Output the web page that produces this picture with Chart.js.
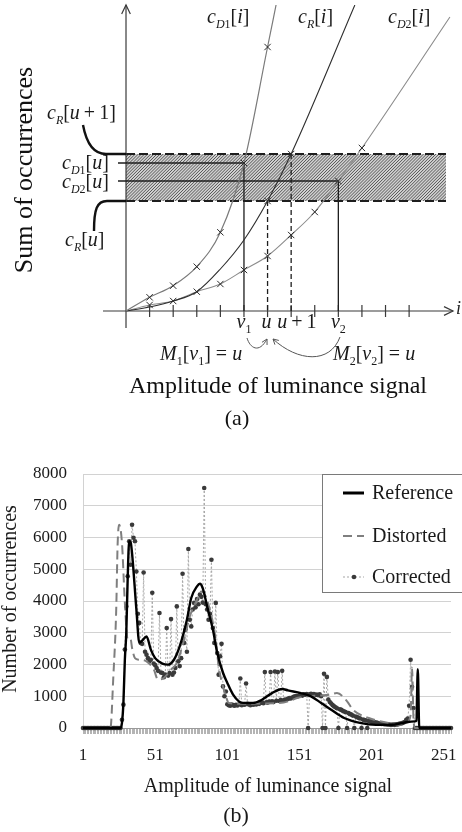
<!DOCTYPE html>
<html><head><meta charset="utf-8">
<script src="https://cdn.jsdelivr.net/npm/chart.js@4.4.1/dist/chart.umd.min.js"></script>
<style>
html,body{margin:0;padding:0;background:#fff;width:462px;height:832px;overflow:hidden}
canvas{position:absolute;left:0}
#ca{top:0}
#cb{top:430px}
</style></head><body>
<canvas id="ca" width="462" height="430"></canvas>
<canvas id="cb" width="462" height="402"></canvas>
<script>
// ===== (a) schematic: cumulative histograms =====
const cD1X = [0, 1, 2, 3, 4, 5, 6, 6.36];
const cD1Y = [0, 1.37, 2.53, 4.43, 7.87, 14.8, 26.4, 30.6];
const cD1Mark = [0, 1, 1, 1, 1, 1, 1, 0];
const cRX = [0, 1, 2, 3, 4, 5, 6, 7, 9.7];
const cRY = [0, 0.4, 1.0, 1.93, 4.2, 7.1, 11.0, 15.7, 30.6];
const cRMark = [0, 0, 0, 0, 0, 0, 1, 1, 0];
const cD2X = [0, 1, 2, 3, 4, 5, 6, 7, 8, 9, 10, 13.73];
const cD2Y = [0, 0.6, 1.0, 1.93, 2.7, 4.1, 5.5, 7.6, 9.9, 13.0, 16.3, 29.4];
const cD2Mark = [0, 1, 1, 1, 1, 1, 1, 1, 1, 1, 1, 0];
const axisTicksA = [1, 2, 3, 4, 5, 6, 7, 8, 9, 10, 11, 12];
const posV1 = 5, posU = 6, posU1 = 7, posV2 = 9;

// ===== (b) histograms =====
const xTickLabels = [1, 51, 101, 151, 201, 251];
const refX = [1,27,28,29,30,31,32,33,34,35,38,40,42,45,48,51,56,60,64,68,73,76,80,82,84,87,91,94,98,101,105,109,112,119,125,132,139,143,152,159,166,173,182,193,204,215,224,231,232,233,234,256];
const refY = [0,0,160,790,2150,3000,4780,5880,5850,5500,3730,2690,2750,2880,2470,2200,2025,1995,2150,2570,3410,4095,4460,4545,4400,3830,3100,2370,1740,1420,1050,840,790,790,890,1100,1230,1185,1100,995,790,575,315,160,100,100,175,210,230,1850,0,0];
const disX = [1,20,22,24,25,26,28,30,32,34,35,37,40,45,50,53,57,62,66,71,75,80,83,86,90,93,95,98,100,102,110,125,140,145,150,157,165,172,177,184,188,199,211,220,225,228,229,230,231,256];
const disY = [0,0,1600,3700,5800,6400,5830,3950,2780,2790,2520,2200,2150,2100,1850,1520,1575,1840,2050,2780,3515,4040,4300,4150,3515,2780,1940,1310,1000,790,760,770,800,870,950,1000,1020,1050,1100,840,575,315,175,100,160,400,1900,300,0,0];
const corrected = [
0,0,0,0,0,0,0,0,0,0,
0,0,0,0,0,0,0,0,0,0,
0,0,0,0,0,0,0,260,735,2470,
3830,4780,5880,5140,6400,5990,5880,4930,3600,3310,
2680,2650,4900,2400,2310,2200,2100,2150,4260,2030,
1980,1890,1800,3620,1750,1730,1600,1680,3150,1650,
1730,3430,1680,1750,1890,3830,2100,1950,2200,4860,
2680,3100,2400,5640,3410,3200,3730,3940,3800,4060,
3900,4200,4130,3950,7560,3900,3730,3410,3600,5300,
3150,2680,3940,2360,1680,2260,2650,1310,1000,1150,
750,720,700,740,720,700,730,710,740,1560,
720,750,730,1400,760,740,720,750,730,760,
740,780,760,790,800,780,1760,810,800,830,
1760,840,820,1780,860,1760,850,880,1800,870,
900,890,920,940,930,960,980,995,1010,1000,
1030,1040,1020,1060,1050,1070,0,1060,1080,1050,
1070,1040,1050,1030,1060,1000,0,1710,0,1610,
900,820,770,720,680,650,620,0,590,570,
540,520,500,0,470,440,420,390,0,360,
340,320,300,0,270,250,240,0,220,210,
200,190,180,170,160,150,140,130,130,120,
120,110,110,100,100,110,100,120,110,130,
140,150,170,190,260,300,700,2150,1300,630,
0,0,0,0,0,0,0,0,0,0,
0,0,0,0,0,0,0,0,0,0,
0,0,0,0,0,0
];

const SERIF = '"Liberation Serif","Times New Roman",serif';

function partFont(style, size) {
  const sub = style[0] === 's';
  const it = style[style.length - 1] === 'i';
  const sz = sub ? Math.round(size * 0.62) : size;
  return (it ? 'italic ' : '') + sz + 'px ' + SERIF;
}
function mathText(ctx, x, y, parts, size, align) {
  let w = 0; const ws = [];
  for (const [t, s] of parts) { ctx.font = partFont(s, size); const m = ctx.measureText(t).width; ws.push(m); w += m; }
  let cx = align === 'center' ? x - w / 2 : x;
  ctx.textBaseline = 'alphabetic'; ctx.textAlign = 'left'; ctx.fillStyle = '#1a1a1a';
  parts.forEach(([t, s], k) => {
    ctx.font = partFont(s, size);
    ctx.fillText(t, cx, y + (s[0] === 's' ? size * 0.27 : 0));
    cx += ws[k];
  });
}
function head(ctx, x, y, ang, len, spread) {
  ctx.beginPath();
  ctx.moveTo(x - len * Math.cos(ang - spread), y - len * Math.sin(ang - spread));
  ctx.lineTo(x, y);
  ctx.lineTo(x - len * Math.cos(ang + spread), y - len * Math.sin(ang + spread));
  ctx.stroke();
}
function val(xs, ys, p) { return ys[xs.indexOf(p)]; }

const diagramA = {
  id: 'diagramA',
  beforeDatasetsDraw(chart) {
    const ctx = chart.ctx, ca = chart.chartArea;
    const X = v => chart.scales.x.getPixelForValue(v), Y = v => chart.scales.y.getPixelForValue(v);
    const x0 = X(0), y0 = Y(0);
    const yb = Y(val(cRX, cRY, posU)), yt = Y(val(cRX, cRY, posU1));
    const xr = ca.right - 7;
    ctx.save();
    // hatched band
    ctx.fillStyle = '#d0d0d0';
    ctx.fillRect(x0, yt, xr - x0, yb - yt);
    ctx.save();
    ctx.beginPath(); ctx.rect(x0, yt, xr - x0, yb - yt); ctx.clip();
    ctx.strokeStyle = '#383838'; ctx.lineWidth = 0.8;
    ctx.beginPath();
    const h = yb - yt;
    for (let s = x0 - h; s < xr + 2; s += 3.1) { ctx.moveTo(s, yb); ctx.lineTo(s + h, yt); }
    ctx.stroke();
    ctx.restore();
    ctx.strokeStyle = '#1e1e1e'; ctx.lineWidth = 2; ctx.setLineDash([9, 4]);
    ctx.beginPath(); ctx.moveTo(x0, yt); ctx.lineTo(xr, yt); ctx.moveTo(x0, yb); ctx.lineTo(xr, yb); ctx.stroke();
    ctx.setLineDash([]);
    // axes
    ctx.strokeStyle = '#3a3a3a'; ctx.lineWidth = 1.2;
    ctx.beginPath(); ctx.moveTo(x0, ca.bottom); ctx.lineTo(x0, ca.top); ctx.stroke();
    head(ctx, x0, ca.top, -Math.PI / 2, 10, 0.45);
    ctx.beginPath(); ctx.moveTo(ca.left, y0); ctx.lineTo(ca.right, y0); ctx.stroke();
    head(ctx, ca.right, y0, 0, 10, 0.45);
    ctx.beginPath();
    for (const t of axisTicksA) { ctx.moveTo(X(t), y0 - 6); ctx.lineTo(X(t), y0 + 6); }
    ctx.stroke();
    // guide lines
    ctx.strokeStyle = '#1e1e1e'; ctx.lineWidth = 1.3;
    const yd1 = Y(val(cD1X, cD1Y, posV1)), yd2 = Y(val(cD2X, cD2Y, posV2));
    ctx.beginPath();
    ctx.moveTo(x0 - 8, yd1); ctx.lineTo(X(posV1), yd1); ctx.lineTo(X(posV1), y0);
    ctx.moveTo(x0 - 8, yd2); ctx.lineTo(X(posV2), yd2); ctx.lineTo(X(posV2), y0);
    ctx.stroke();
    ctx.setLineDash([5, 3]);
    ctx.beginPath();
    ctx.moveTo(X(posU), yb); ctx.lineTo(X(posU), y0);
    ctx.moveTo(X(posU1), yt); ctx.lineTo(X(posU1), y0);
    ctx.stroke();
    ctx.setLineDash([]);
    // bracket curves
    ctx.lineWidth = 2.4; ctx.strokeStyle = '#111';
    ctx.beginPath();
    ctx.moveTo(83, 125); ctx.bezierCurveTo(86, 141, 92, yt, 106, yt); ctx.lineTo(x0, yt);
    ctx.moveTo(x0, yb); ctx.lineTo(107, yb); ctx.bezierCurveTo(97, yb, 94, yb + 8, 94, yb + 30);
    ctx.stroke();
    // arrows between labels
    ctx.lineWidth = 1; ctx.strokeStyle = '#555';
    ctx.beginPath(); ctx.moveTo(247, 338); ctx.bezierCurveTo(250, 348, 259, 354, 267, 339); ctx.stroke();
    head(ctx, 267, 339, Math.atan2(339 - 354, 267 - 259), 6, 0.5);
    ctx.beginPath(); ctx.moveTo(340, 337); ctx.bezierCurveTo(330, 364, 298, 362, 273, 339); ctx.stroke();
    head(ctx, 273, 339, Math.atan2(339 - 362, 273 - 298), 6, 0.5);
    ctx.restore();
  },
  afterDraw(chart) {
    const ctx = chart.ctx;
    const X = v => chart.scales.x.getPixelForValue(v);
    ctx.save();
    const S = 20;
    mathText(ctx, 207, 23, [['c','i'],['D','si'],['1','sr'],['[','r'],['i','i'],[']','r']], S);
    mathText(ctx, 298, 23, [['c','i'],['R','si'],['[','r'],['i','i'],[']','r']], S);
    mathText(ctx, 388, 23, [['c','i'],['D','si'],['2','sr'],['[','r'],['i','i'],[']','r']], S);
    mathText(ctx, 47, 119, [['c','i'],['R','si'],['[','r'],['u','i'],['\u2009+\u20091','r'],[']','r']], S);
    mathText(ctx, 62, 169, [['c','i'],['D','si'],['1','sr'],['[','r'],['u','i'],[']','r']], S);
    mathText(ctx, 62, 188, [['c','i'],['D','si'],['2','sr'],['[','r'],['u','i'],[']','r']], S);
    mathText(ctx, 65, 246, [['c','i'],['R','si'],['[','r'],['u','i'],[']','r']], S);
    mathText(ctx, X(posV1), 328, [['v','i'],['1','sr']], S, 'center');
    mathText(ctx, X(posU) - 1, 328, [['u','i']], S, 'center');
    mathText(ctx, X(posU1) - 14, 328, [['u','i'],['\u2009+\u20091','r']], S);
    mathText(ctx, X(posV2), 328, [['v','i'],['2','sr']], S, 'center');
    mathText(ctx, 160, 360, [['M','i'],['1','sr'],['[','r'],['v','i'],['1','sr'],['] = ','r'],['u','i']], S);
    mathText(ctx, 333, 360, [['M','i'],['2','sr'],['[','r'],['v','i'],['2','sr'],['] = ','r'],['u','i']], S);
    ctx.font = 'italic 18px ' + SERIF; ctx.fillStyle = '#222'; ctx.textBaseline = 'middle'; ctx.textAlign = 'left';
    ctx.fillText('i', 456, 309);
    ctx.fillStyle = '#111';
    ctx.font = '26px ' + SERIF; ctx.textAlign = 'center'; ctx.textBaseline = 'alphabetic';
    ctx.save(); ctx.translate(32, 170); ctx.rotate(-Math.PI / 2); ctx.fillText('Sum of occurrences', 0, 0); ctx.restore();
    ctx.font = '24px ' + SERIF;
    ctx.fillText('Amplitude of luminance signal', 278, 393);
    ctx.font = '22px ' + SERIF;
    ctx.fillText('(a)', 237, 425);
    ctx.restore();
  }
};

function pts(xs, ys) { return xs.map((x, i) => ({ x, y: ys[i] })); }
function markR(m) { return c => m[c.dataIndex] ? 4.5 : 0; }

new Chart(document.getElementById('ca'), {
  type: 'scatter',
  data: { datasets: [
    { data: pts(cD1X, cD1Y), showLine: true, borderColor: '#7a7a7a', borderWidth: 1.2, cubicInterpolationMode: 'monotone',
      pointStyle: 'crossRot', pointRadius: markR(cD1Mark), pointBorderColor: '#2a2a2a', pointBorderWidth: 1, pointBackgroundColor: 'transparent' },
    { data: pts(cRX, cRY), showLine: true, borderColor: '#2e2e2e', borderWidth: 1.1, cubicInterpolationMode: 'monotone',
      pointStyle: 'crossRot', pointRadius: markR(cRMark), pointBorderColor: '#2a2a2a', pointBorderWidth: 1, pointBackgroundColor: 'transparent' },
    { data: pts(cD2X, cD2Y), showLine: true, borderColor: '#8c8c8c', borderWidth: 1.1, cubicInterpolationMode: 'monotone',
      pointStyle: 'crossRot', pointRadius: markR(cD2Mark), pointBorderColor: '#2a2a2a', pointBorderWidth: 1, pointBackgroundColor: 'transparent' }
  ]},
  options: {
    responsive: false, animation: false, events: [],
    layout: { padding: { left: 103, right: 9, top: 5, bottom: 102 } },
    plugins: { legend: { display: false }, tooltip: { enabled: false } },
    scales: {
      x: { type: 'linear', min: -0.975, max: 13.86, display: false },
      y: { type: 'linear', min: -1.7, max: 30.6, display: false }
    }
  },
  plugins: [diagramA]
});

const decorB = {
  id: 'decorB',
  afterDraw(chart) {
    const ctx = chart.ctx;
    ctx.save();
    ctx.fillStyle = '#1a1a1a';
    ctx.font = '20px ' + SERIF; ctx.textAlign = 'center'; ctx.textBaseline = 'alphabetic';
    ctx.save(); ctx.translate(16, 169); ctx.rotate(-Math.PI / 2); ctx.fillText('Number of occurrences', 0, 0); ctx.restore();
    ctx.fillText('Amplitude of luminance signal', 268, 362);
    ctx.font = '22px ' + SERIF;
    ctx.fillText('(b)', 236, 392);
    // legend
    ctx.fillStyle = '#fff'; ctx.strokeStyle = '#7a7a7a'; ctx.lineWidth = 1;
    ctx.fillRect(322, 44, 150, 118); ctx.strokeRect(322.5, 44.5, 150, 118);
    const ds = chart.data.datasets;
    const rows = [63, 106, 147];
    ds.forEach((d, k) => {
      const y = rows[k];
      ctx.save();
      ctx.strokeStyle = d.borderColor; ctx.lineWidth = k === 0 ? 3 : (k === 1 ? 2.2 : 1);
      ctx.setLineDash(d.borderDash || []);
      ctx.beginPath(); ctx.moveTo(343, y); ctx.lineTo(364, y); ctx.stroke();
      if (k === 2) { ctx.setLineDash([]); ctx.fillStyle = d.pointBackgroundColor; ctx.beginPath(); ctx.arc(354, y, 2.3, 0, Math.PI * 2); ctx.fill(); }
      ctx.restore();
      ctx.fillStyle = '#1a1a1a'; ctx.font = '20px ' + SERIF; ctx.textAlign = 'left'; ctx.textBaseline = 'middle';
      ctx.fillText(d.label, 372, y + 1);
    });
    ctx.restore();
  }
};

new Chart(document.getElementById('cb'), {
  type: 'line',
  data: { datasets: [
    { label: 'Reference', data: pts(refX, refY), borderColor: '#000', borderWidth: 2.4, pointRadius: 0,
      cubicInterpolationMode: 'monotone', order: 1, clip: false },
    { label: 'Distorted', data: pts(disX, disY), borderColor: '#7f7f7f', borderWidth: 2, borderDash: [9, 5], pointRadius: 0,
      cubicInterpolationMode: 'monotone', order: 2, clip: false },
    { label: 'Corrected', data: corrected.map((y, i) => ({ x: i + 1, y })), borderColor: '#a6a6a6', borderWidth: 1, borderDash: [2, 2],
      pointRadius: 2.3, pointBackgroundColor: '#3a3a3a', pointBorderWidth: 0, tension: 0, order: 3, clip: false }
  ]},
  options: {
    responsive: false, animation: false, events: [],
    layout: { padding: { left: 0, right: 0, top: 44, bottom: 64 } },
    plugins: { legend: { display: false }, tooltip: { enabled: false } },
    scales: {
      x: {
        type: 'linear', min: 1, max: 256,
        afterBuildTicks: s => { const t = []; for (let v = 1; v <= 256; v++) t.push({ value: v }); s.ticks = t; },
        afterFit: s => { s.height = 40; },
        ticks: { autoSkip: false, maxRotation: 0, minRotation: 0, padding: 11, color: '#1a1a1a',
          font: { family: SERIF, size: 17 },
          callback: v => xTickLabels.includes(v) ? String(v) : '' },
        grid: { drawOnChartArea: false, drawTicks: true, tickLength: 6, color: '#b4b4b4', lineWidth: 1 },
        border: { color: '#9a9a9a' }
      },
      y: {
        min: 0, max: 8000,
        afterFit: s => { s.width = 83; },
        ticks: { stepSize: 1000, padding: 16, color: '#1a1a1a', font: { family: SERIF, size: 17 },
          callback: v => String(v) },
        grid: { color: '#d2d2d2', lineWidth: 1, drawTicks: false },
        border: { color: '#d2d2d2' }
      }
    }
  },
  plugins: [decorB]
});
</script>
</body></html>
